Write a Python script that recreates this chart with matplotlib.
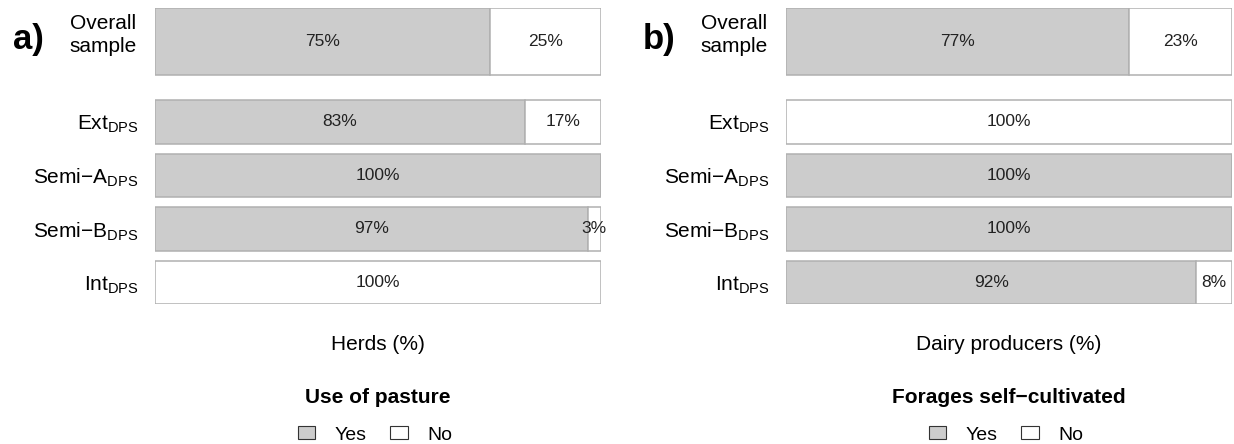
import matplotlib.pyplot as plt
from matplotlib.patches import Patch

plt.rcParams['font.family'] = ['Liberation Sans', 'DejaVu Sans']
plt.rcParams['mathtext.fontset'] = 'custom'
plt.rcParams['mathtext.rm'] = 'Liberation Sans'
plt.rcParams['mathtext.it'] = 'Liberation Sans'

# Data
groups = ['Overall\nsample', 'Ext$_{\\mathrm{DPS}}$', 'Semi\u2212A$_{\\mathrm{DPS}}$',
          'Semi\u2212B$_{\\mathrm{DPS}}$', 'Int$_{\\mathrm{DPS}}$']
pasture_yes = [75, 83, 100, 97, 0]
pasture_no = [25, 17, 0, 3, 100]
forage_yes = [77, 0, 100, 100, 92]
forage_no = [23, 100, 0, 0, 8]

panels = [
    ('a)', pasture_yes, pasture_no, 'Herds (%)', 'Use of pasture'),
    ('b)', forage_yes, forage_no, 'Dairy producers (%)', 'Forages self\u2212cultivated'),
]

ypos = [0, 1.5, 2.5, 3.5, 4.5]
heights = [1.25, 0.81, 0.81, 0.81, 0.81]
yes_color = '#cccccc'
no_color = 'white'
edge = '#b0b0b0'

W, H = 1234, 444
fig = plt.figure(figsize=(W / 100, H / 100), dpi=100)

lefts = [155, 786]
for (tag, yes, no, xlab, title), left in zip(panels, lefts):
    ax = fig.add_axes([left / W, (H - 304) / H, 446 / W, 296 / H])
    ax.barh(ypos, yes, height=heights, color=yes_color, edgecolor=edge, linewidth=1.1)
    ax.barh(ypos, no, left=yes, height=heights, color=no_color, edgecolor=edge, linewidth=1.1)
    for y, a, b in zip(ypos, yes, no):
        if a > 0:
            ax.text(a / 2, y, f'{a}%', ha='center', va='center', fontsize=12.5, color='#222222')
        if b > 0:
            ax.text(a + b / 2, y, f'{b}%', ha='center', va='center', fontsize=12.5, color='#222222')
    ax.set_xlim(0, 100)
    ax.set_ylim(4.9, -0.625)
    ax.set_yticks(ypos)
    ax.set_yticklabels([''] + groups[1:], fontsize=15)
    ax.tick_params(axis='y', length=0, pad=12)
    ax.set_xticks([])
    for s in ax.spines.values():
        s.set_visible(False)

    # first row label sits a bit higher than the bar centre
    fig.text((left - 18) / W, 1 - 35 / H, groups[0], ha='right', va='center', fontsize=15,
             multialignment='center', linespacing=1.3)

    cx = (left + 223) / W
    fig.text(cx, 1 - 345 / H, xlab, ha='center', va='center', fontsize=15)
    fig.text(cx, 1 - 397 / H, title, ha='center', va='center', fontsize=15, fontweight='bold')
    handles = [Patch(facecolor=yes_color, edgecolor='#333333', linewidth=0.8, label='Yes'),
               Patch(facecolor=no_color, edgecolor='#333333', linewidth=0.8, label='No')]
    fig.legend(handles=handles, loc='center', bbox_to_anchor=((left + 220) / W, 1 - 435 / H),
               ncol=2, frameon=False, fontsize=14, handlelength=0.9, handleheight=0.65,
               handletextpad=1.0, columnspacing=1.2, borderpad=0)
    fig.text((left - 127) / W, 1 - 40 / H, tag, ha='center', va='center', fontsize=25,
             fontweight='bold')

fig.savefig('out.png', dpi=100)
